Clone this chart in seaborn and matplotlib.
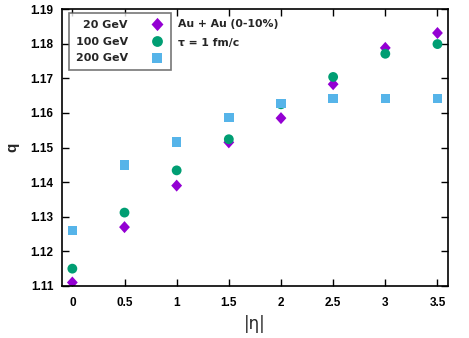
import numpy as np
import pandas as pd
import matplotlib
matplotlib.use("Agg")
import matplotlib.pyplot as plt
import seaborn as sns

# q vs |eta| for Au+Au (0-10%), tau = 1 fm/c
eta = [0.0, 0.5, 1.0, 1.5, 2.0, 2.5, 3.0, 3.5]
q_20 = [1.111, 1.127, 1.139, 1.1515, 1.1585, 1.1683, 1.1788, 1.1831]
q_100 = [1.115, 1.1312, 1.1434, 1.1524, 1.1625, 1.1704, 1.1771, 1.1799]
q_200 = [1.126, 1.1449, 1.1516, 1.1587, 1.1627, 1.1642, 1.1641, 1.1641]
labels = ["20 GeV", "100 GeV", "200 GeV"]
colors = ["#9400D3", "#009E73", "#56B4E9"]

# gnuplot-like diamond (a bit taller than wide)
diamond = [(0, 1), (0.9, 0), (0, -1), (-0.9, 0), (0, 1)]
markers = [diamond, "o", "s"]
marker_area = [75, 50, 46]

df = pd.concat([
    pd.DataFrame({"eta": eta, "q": q, "energy": lab})
    for q, lab in zip([q_20, q_100, q_200], labels)
], ignore_index=True)

sns.set_style("ticks")
plt.rcParams["font.family"] = ["Liberation Sans", "DejaVu Sans"]

fig = plt.figure(figsize=(4.69, 3.38), dpi=100)
ax = fig.add_axes([0.132, 0.154, 0.823, 0.819])

sns.scatterplot(data=df, x="eta", y="q", hue="energy", style="energy",
                size="energy",
                hue_order=labels, style_order=labels, size_order=labels,
                palette=dict(zip(labels, colors)),
                markers=dict(zip(labels, markers)),
                sizes=dict(zip(labels, marker_area)),
                linewidth=0, ax=ax, legend=True)

ax.set_xlim(-0.1, 3.6)
ax.set_ylim(1.11, 1.19)
ax.set_xticks(np.arange(0, 3.51, 0.5))
ax.set_xticklabels(["0", "0.5", "1", "1.5", "2", "2.5", "3", "3.5"])
ax.set_yticks(np.arange(1.11, 1.1901, 0.01))
ax.set_yticklabels([f"{v:.2f}" for v in np.arange(1.11, 1.1901, 0.01)])
ax.tick_params(direction="in", length=5, width=1, top=True, right=True,
               labelsize=8.5, colors="black")
ax.tick_params(axis="y", pad=6)
ax.tick_params(axis="x", pad=8)
for t in ax.get_xticklabels() + ax.get_yticklabels():
    t.set_fontweight("bold")
for sp in ax.spines.values():
    sp.set_linewidth(1.2)
    sp.set_color("black")

ax.set_xlabel("|η|", fontsize=12, labelpad=4, family=["DejaVu Sans"])
ax.set_ylabel("q", fontsize=11, fontweight="bold", labelpad=8)

leg = ax.legend(loc="upper left", bbox_to_anchor=(0.018, 0.986),
                borderaxespad=0, markerfirst=False, frameon=True,
                fancybox=False, edgecolor="#555555", handletextpad=1.9,
                borderpad=0.6, labelspacing=0.62, handlelength=1.4,
                markerscale=1.1,
                prop={"family": "DejaVu Sans", "weight": "bold", "size": 8})
leg.get_frame().set_linewidth(1.2)

ax.text(0.30, 0.946, "Au + Au (0-10%)", transform=ax.transAxes,
        fontsize=7.8, fontweight="bold", family=["DejaVu Sans"], va="center")
ax.text(0.30, 0.877, "τ = 1 fm/c", transform=ax.transAxes,
        fontsize=7.8, fontweight="bold", family=["DejaVu Sans"], va="center")

fig.savefig("out.png", dpi=100)
